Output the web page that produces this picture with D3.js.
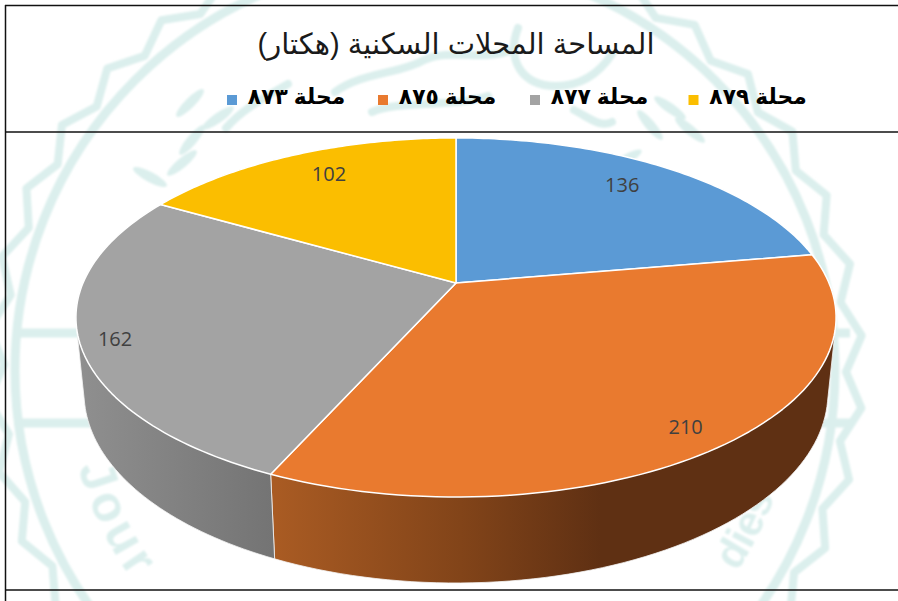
<!DOCTYPE html>
<html>
<head>
<meta charset="utf-8">
<script src="https://cdn.jsdelivr.net/npm/d3@7"></script>
<style>
  html, body { margin: 0; padding: 0; background: #fff; }
  svg { display: block; }
</style>
</head>
<body>
<div id="chart"></div>
<script>
// data
const categories = ["محلة ٨٧٣", "محلة ٨٧٥", "محلة ٨٧٧", "محلة ٨٧٩"];
const values = [136, 210, 162, 102];
const colors = ["#5b9ad5", "#e97a2f", "#a3a3a3", "#fbbe00"];
const titleText = "المساحة المحلات السكنية (هكتار)";

const width = 898, height = 601;

const svg = d3.select("#chart")
    .append("svg")
    .attr("width", width)
    .attr("height", height);

const defs = svg.append("defs");
defs.append("filter")
    .attr("id", "soft")
    .attr("x", "-10%").attr("y", "-10%").attr("width", "120%").attr("height", "120%")
    .append("feGaussianBlur")
    .attr("stdDeviation", 1);

// ---- faint seal behind the chart ----
const sealColor = "#dbefed";
const sealBack = svg.append("g").attr("filter", "url(#soft)");

const seal = sealBack.append("g")
    .attr("fill", "none")
    .attr("stroke", sealColor)
    .attr("stroke-width", 9)
    .attr("transform", "translate(425, 370)");

seal.append("circle").attr("r", 410);

// scalloped outer ring
seal.append("path")
    .attr("stroke-width", 8)
    .attr("stroke-linejoin", "round")
    .attr("d", d3.lineRadial()
        .angle(d => d * Math.PI / 180)
        .radius((d, i) => i % 2 ? 421 : 438)
        .curve(d3.curveLinearClosed)(d3.range(0, 360, 4.75)));

// bands that stick out either side of the pie
seal.append("path")
    .attr("d", "M-410,-37H425M-408,53H425");

// lettering that follows the ring, only its visible part
seal.append("path")
    .attr("id", "sealArcLeft")
    .attr("stroke", "none")
    .attr("d", "M-355,60A360,360 0 0 0 355,60");
seal.append("path")
    .attr("id", "sealArcRight")
    .attr("stroke", "none")
    .attr("d", "M-367,60A372,372 0 0 0 367,60");

seal.append("text")
    .attr("font-family", "'Liberation Sans', sans-serif")
    .attr("font-weight", "bold")
    .attr("font-size", 50)
    .attr("letter-spacing", 5)
    .attr("fill", sealColor)
    .attr("stroke", "none")
    .append("textPath")
    .attr("href", "#sealArcLeft")
    .attr("startOffset", "3.8%")
    .text("Jour");

seal.append("text")
    .attr("font-family", "'Liberation Sans', sans-serif")
    .attr("font-weight", "bold")
    .attr("font-size", 42)
    .attr("fill", sealColor)
    .attr("stroke", "none")
    .attr("text-anchor", "end")
    .append("textPath")
    .attr("href", "#sealArcRight")
    .attr("startOffset", "93.4%")
    .text("dies");

// calligraphy strokes inside the ring
const sealStrokes = sealBack.append("g")
    .attr("fill", "none")
    .attr("stroke", sealColor)
    .attr("stroke-width", 8)
    .attr("stroke-linecap", "round");
[
    "M518,28C506,60 522,86 556,86C582,86 600,72 612,54",
    "M335,92C362,72 400,74 424,60C452,48 482,62 512,50",
    "M226,128C240,112 256,102 288,84",
    "M372,112C400,100 452,108 488,96",
    "M574,110C590,118 600,128 612,122"
].forEach(d => sealStrokes.append("path").attr("d", d));

// leaves at the top left and right of the title
[[150, 177, 28], [182, 163, -40], [192, 140, -50], [218, 118, -35],
    [190, 103, -45], [670, 108, 35], [690, 130, 40], [650, 125, 50], [625, 160, -30]].forEach(l => {
    sealBack.append("ellipse")
        .attr("transform", `translate(${l[0]}, ${l[1]}) rotate(${l[2]})`)
        .attr("rx", 19).attr("ry", 5)
        .attr("fill", sealColor);
});

// ---- frame lines ----
const frame = svg.append("g").attr("stroke", "#111").attr("stroke-width", 1.5);
[5.5, 132, 590].forEach(y => {
    frame.append("line").attr("x1", 5).attr("x2", width).attr("y1", y).attr("y2", y);
});
frame.append("line").attr("x1", 5.5).attr("x2", 5.5).attr("y1", 5).attr("y2", height);

// ---- title and legend ----
svg.append("text")
    .attr("x", 456)
    .attr("y", 54)
    .attr("text-anchor", "middle")
    .attr("direction", "rtl")
    .attr("font-family", "'Liberation Sans', 'DejaVu Sans', sans-serif")
    .attr("font-size", 29)
    .attr("fill", "#1a1a1a")
    .text(titleText);

const legendX = d3.scaleOrdinal()
    .domain(categories)
    .range([227, 378, 530, 688.5]);

const legend = svg.append("g").selectAll("g")
    .data(categories)
    .join("g")
    .attr("transform", d => `translate(${legendX(d)}, 95)`);

legend.append("rect")
    .attr("width", 10)
    .attr("height", 10)
    .attr("fill", (d, i) => colors[i]);

legend.append("text")
    .attr("x", 69.5)
    .attr("y", 9)
    .attr("text-anchor", "middle")
    .attr("direction", "rtl")
    .attr("font-family", "'Liberation Sans', 'DejaVu Sans', sans-serif")
    .attr("font-weight", "bold")
    .attr("font-size", 21.8)
    .attr("fill", "#000")
    .text(d => d);

// ---- pie in perspective ----
const arcs = d3.pie().sort(null).value(d => d)(values);

// projects a point on the pie disc: angle clockwise from 12 o'clock, r in 0..1
const tilt = 0.192;
function projector(cy, a, b) {
    return function (angle, r) {
        const X = r * Math.sin(angle), Y = -r * Math.cos(angle);
        const w = 1 - tilt * Y;
        return [456 + a * X / w, cy + b * Y / w];
    };
}
const topFace = projector(283, 373, 172.9);
const bottomFace = projector(356.5, 365, 183);

const line = d3.line();
const rimSteps = a => d3.range(0, 81).map(i => a.startAngle + (a.endAngle - a.startAngle) * i / 80);

// side wall shading runs left to right
function wallGradient(id, x1, x2, stops) {
    const g = defs.append("linearGradient")
        .attr("id", id)
        .attr("gradientUnits", "userSpaceOnUse")
        .attr("x1", x1).attr("x2", x2).attr("y1", 0).attr("y2", 0);
    stops.forEach(s => g.append("stop").attr("offset", s[0]).attr("stop-color", s[1]));
}
wallGradient("wallGrey", 80, 272, [[0, "#8f8f8f"], [1, "#747474"]]);
wallGradient("wallOrange", 276, 835, [[0, "#a95b23"], [0.33, "#824419"], [0.58, "#5f3013"], [1, "#5f3013"]]);

// only the two front slices show a wall; the hull keeps the straight sides
// running from the top rim down to the bottom rim
const walls = [
    {arc: arcs[1], fill: "url(#wallOrange)"},
    {arc: arcs[2], fill: "url(#wallGrey)"}
];
svg.append("g").selectAll("path")
    .data(walls)
    .join("path")
    .attr("fill", d => d.fill)
    .attr("stroke", "#f4f4f4")
    .attr("stroke-width", 0.8)
    .attr("d", d => {
        const steps = rimSteps(d.arc);
        const upper = steps.map(t => topFace(t, 1));
        const lower = steps.map(t => bottomFace(t, 1));
        return line(d3.polygonHull(upper.concat(lower))) + "Z";
    });

svg.append("g").selectAll("path")
    .data(arcs)
    .join("path")
    .attr("fill", (d, i) => colors[i])
    .attr("stroke", "#fff")
    .attr("stroke-width", 1.5)
    .attr("stroke-linejoin", "round")
    .attr("d", d => line([topFace(0, 0)].concat(rimSteps(d).map(t => topFace(t, 1)))) + "Z");

// ---- value labels ----
const labelRadius = [0.81, 0.893, 0.913, 0.815];
const labelNudge = [-2, 1.3, -1.5, 1.7];

svg.append("g").selectAll("text")
    .data(arcs)
    .join("text")
    .attr("transform", (d, i) => {
        const mid = (d.startAngle + d.endAngle) / 2 + labelNudge[i] * Math.PI / 180;
        const p = topFace(mid, labelRadius[i]);
        return `translate(${p[0]}, ${p[1]})`;
    })
    .attr("text-anchor", "middle")
    .attr("dy", "0.36em")
    .attr("font-family", "'Open Sans', Lato, sans-serif")
    .attr("font-size", 20)
    .attr("fill", "#404040")
    .text(d => d.value);
</script>
</body>
</html>
